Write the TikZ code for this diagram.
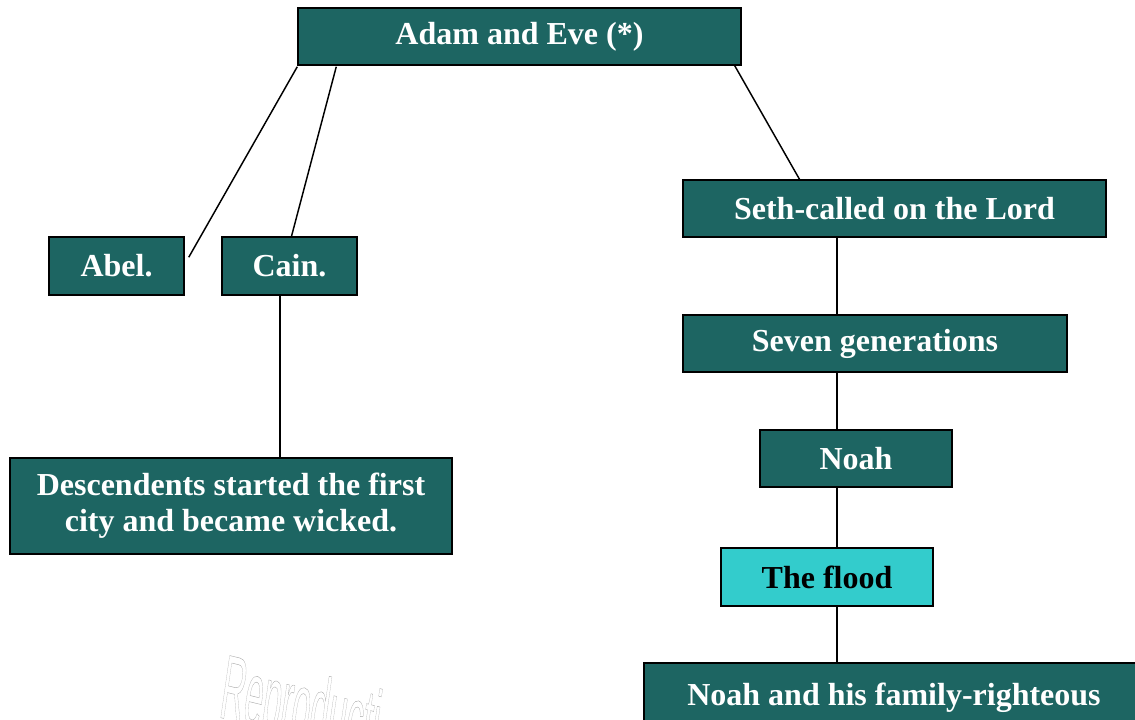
\documentclass[tikz,border=0pt]{standalone}
\usepackage{fontspec}
\setmainfont{Liberation Serif}
\newfontfamily\markfont{Liberation Sans}
\definecolor{tealbox}{HTML}{1D6562}
\definecolor{floodbox}{HTML}{33CCCC}
\tikzset{
  box/.style={draw=black,line width=1.1pt,fill=tealbox,text=white,
    font=\fontsize{24}{27}\selectfont\bfseries,inner sep=0pt,align=center},
  link/.style={draw=black,line width=1.1pt},
}
\begin{document}
\begin{tikzpicture}[x=0.75pt,y=-0.75pt]
    \useasboundingbox (0,0) rectangle (1135,719);
    \clip (0,0) rectangle (1135,719);

    % left side
    \node[box,minimum width={443*0.75pt},minimum height={57*0.75pt}] (adam) at (519.5,36.5) {Adam and Eve (*)};
    \node[box,minimum width={135*0.75pt},minimum height={58*0.75pt}] (abel) at (116.5,266) {Abel.};
    \node[box,minimum width={135*0.75pt},minimum height={58*0.75pt}] (cain) at (289.5,266) {Cain.};
    \node[box,minimum width={442*0.75pt},minimum height={96*0.75pt}] (descend) at (231,506) {Descendents started the first\\city and became wicked.};

    % right side
    \node[box,minimum width={423*0.75pt},minimum height={57*0.75pt}] (seth) at (894.5,208.5) {Seth-called on the Lord};
    \node[box,minimum width={384*0.75pt},minimum height={57*0.75pt}] (seven) at (875,343.5) {Seven generations};
    \node[box,minimum width={192*0.75pt},minimum height={57*0.75pt}] (noah) at (856,458.5) {Noah};
    \node[box,fill=floodbox,text=black,minimum width={212*0.75pt},minimum height={58*0.75pt}] (flood) at (827,577) {The flood};
    \node[box,minimum width={500*0.75pt},minimum height={70*0.75pt}] (family) at (894,698) {Noah and his family-righteous};

    \coordinate (cainline) at (280,0);
    \coordinate (spine) at (837,0);

    \draw[link] ([shift={(0,1)}]adam.south west) -- ([shift={(4,21)}]abel.north east);
    \draw[link] ([shift={(39,1)}]adam.south west) -- ([shift={(2,0)}]cain.north);
    \draw[link] ([shift={(-7,0)}]adam.south east) -- ([shift={(-95,0)}]seth.north);
    \draw[link] (cain.south -| cainline) -- (descend.north -| cainline);
    \draw[link] (seth.south -| spine) -- (seven.north -| spine);
    \draw[link] (seven.south -| spine) -- (noah.north -| spine);
    \draw[link] (noah.south -| spine) -- (flood.north -| spine);
    \draw[link] (flood.south -| spine) -- (family.north -| spine);

    % watermark
    \node[text=gray!70,font=\markfont\fontsize{68}{68}\selectfont,anchor=base west,inner sep=0pt,
      xscale=0.37,xslant=0.3,rotate=-5] (mark) at (218,717)
      {\special{pdf:literal direct 1 Tr 0.3 w}Reproducti\special{pdf:literal direct 0 Tr}};
\end{tikzpicture}
\end{document}
